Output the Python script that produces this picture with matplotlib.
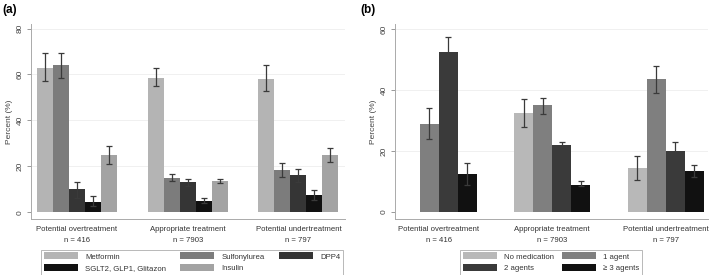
import numpy as np
import matplotlib
matplotlib.use('Agg')
from matplotlib import pyplot as plt

groups = ['Potential overtreatment\nn = 416', 'Appropriate treatment\nn = 7903', 'Potential undertreatment\nn = 797']

# panel (a): drug classes
drugs = ['Metformin', 'Sulfonylurea', 'DPP4', 'SGLT2, GLP1, Glitazon', 'Insulin']
drug_colors = ['#b4b4b4', '#7c7c7c', '#353535', '#111111', '#a3a3a3']
metformin = [63, 58.5, 58]
metformin_lo = [57, 55, 53]
metformin_hi = [69.5, 63, 64]
sulfonylurea = [64, 15, 18.5]
sulfonylurea_lo = [58.5, 13.5, 15.5]
sulfonylurea_hi = [69.5, 16.5, 21.5]
dpp4 = [10, 13, 16]
dpp4_lo = [6, 11.5, 13]
dpp4_hi = [13, 14.5, 19]
sglt2 = [4.5, 5, 7.5]
sglt2_lo = [2.5, 4, 5.5]
sglt2_hi = [7, 6.2, 9.5]
insulin = [25, 13.5, 25]
insulin_lo = [21, 12.5, 22]
insulin_hi = [29, 14.5, 28]

# panel (b): number of agents
agents = ['No medication', '1 agent', '2 agents', '\u2265 3 agents']
agent_colors = ['#b8b8b8', '#7f7f7f', '#3a3a3a', '#111111']
no_med = [np.nan, 32.5, 14.5]
no_med_lo = [np.nan, 28, 10.5]
no_med_hi = [np.nan, 37, 18.5]
one_agent = [29, 35, 43.5]
one_agent_lo = [24, 32, 39]
one_agent_hi = [34, 37.5, 48]
two_agents = [52.5, 22, 20]
two_agents_lo = [47.5, 20.5, 17]
two_agents_hi = [57.5, 23, 23]
three_agents = [12.5, 9, 13.5]
three_agents_lo = [9, 8.5, 11.5]
three_agents_hi = [16, 10, 15.5]

series_a = [(metformin, metformin_lo, metformin_hi), (sulfonylurea, sulfonylurea_lo, sulfonylurea_hi),
            (dpp4, dpp4_lo, dpp4_hi), (sglt2, sglt2_lo, sglt2_hi), (insulin, insulin_lo, insulin_hi)]
series_b = [(no_med, no_med_lo, no_med_hi), (one_agent, one_agent_lo, one_agent_hi),
            (two_agents, two_agents_lo, two_agents_hi), (three_agents, three_agents_lo, three_agents_hi)]

plt.rcParams['font.family'] = ['Liberation Sans', 'DejaVu Sans']
fig = plt.figure(figsize=(7.09, 2.75), dpi=100)


def draw(ax, series, names, colors, width, xlim, ylim, yticks):
    x = np.arange(len(groups))
    n = len(series)
    for i, (vals, lo, hi) in enumerate(series):
        pos = x + (i - (n - 1) / 2) * width
        vals = np.array(vals, float)
        ax.bar(pos, vals, width, color=colors[i], label=names[i], zorder=2)
        err = [vals - np.array(lo, float), np.array(hi, float) - vals]
        ax.errorbar(pos, vals, yerr=err, fmt='none', ecolor='#3a3a3a',
                    elinewidth=0.9, capsize=2.5, capthick=0.9, zorder=3)
    ax.set_xlim(*xlim)
    ax.set_ylim(*ylim)
    ax.set_yticks(yticks)
    ax.set_yticklabels([str(t) for t in yticks], rotation=90, va='center', fontsize=6, color='#444444')
    ax.set_xticks(x)
    ax.set_xticklabels(groups, fontsize=5.6, color='#333333', linespacing=1.9)
    ax.tick_params(axis='x', length=0, pad=5)
    ax.tick_params(axis='y', length=3, color='#999999', width=0.7, pad=2)
    for t in yticks[1:]:
        ax.axhline(t, color='#eeeeee', lw=0.6, zorder=0)
    for s in ['top', 'right']:
        ax.spines[s].set_visible(False)
    for s in ['left', 'bottom']:
        ax.spines[s].set_color('#aaaaaa')
        ax.spines[s].set_linewidth(0.7)
    ax.set_ylabel('Percent (%)', fontsize=6, color='#444444', labelpad=3)


def legend(ax, box, ncol, order, colspace):
    h, l = ax.get_legend_handles_labels()
    leg = ax.legend([h[i] for i in order], [l[i] for i in order],
                    loc='lower left', bbox_to_anchor=box, bbox_transform=fig.transFigure,
                    ncol=ncol, mode='expand', fontsize=5.6, frameon=True, fancybox=False,
                    edgecolor='#999999', handlelength=4.4, handleheight=1.0, handletextpad=0.9,
                    borderpad=0.35, labelspacing=0.45, borderaxespad=0, columnspacing=colspace)
    leg.get_frame().set_linewidth(0.6)
    for t in leg.get_texts():
        t.set_color('#333333')


ax1 = fig.add_axes([0.0437, 0.2036, 0.4429, 0.709])
draw(ax1, series_a, drugs, drug_colors, 0.1445, (-0.415, 2.42), (-3, 82), [0, 20, 40, 60, 80])
legend(ax1, (41 / 709, 0.0, 302 / 709, 30 / 275), 3, [0, 3, 1, 4, 2], 1.8)

ax2 = fig.add_axes([0.557, 0.2036, 0.441, 0.709])
draw(ax2, series_b, agents, agent_colors, 0.167, (-0.388, 2.37), (-2.3, 61.6), [0, 20, 40, 60])
legend(ax2, (460 / 709, 0.0, 182 / 709, 30 / 275), 2, [0, 2, 1, 3], 1.6)

fig.text(0.003, 0.985, '(a)', fontsize=8.5, fontweight='bold', va='top')
fig.text(0.508, 0.985, '(b)', fontsize=8.5, fontweight='bold', va='top')

fig.savefig('out.png', dpi=100)
